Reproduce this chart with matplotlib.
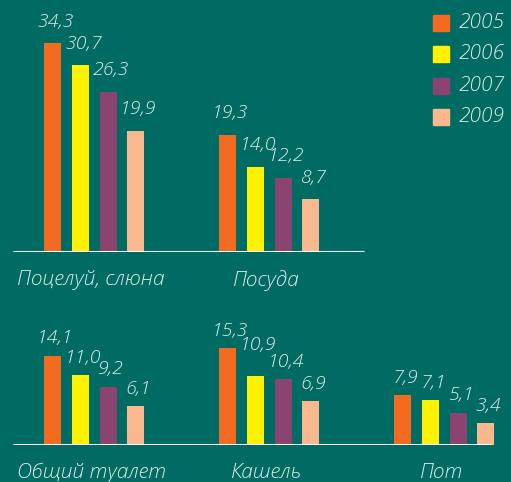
import matplotlib
matplotlib.use("Agg")
import matplotlib.pyplot as plt
import numpy as np

# data
years = ["2005", "2006", "2007", "2009"]
top_groups = ["Поцелуй, слюна", "Посуда"]
top_values = [
    [34.3, 30.7, 26.3, 19.9],
    [19.3, 14.0, 12.2, 8.7],
]
bottom_groups = ["Общий туалет", "Кашель", "Пот"]
bottom_values = [
    [14.1, 11.0, 9.2, 6.1],
    [15.3, 10.9, 10.4, 6.9],
    [7.9, 7.1, 5.1, 3.4],
]

BG = "#006B63"
TEXT = "#DCEDE9"
colors = ["#F26B21", "#FFF200", "#8B4372", "#F9B88E"]
FONT = "Open Sans"


def fmt(v):
    return f"{v:.1f}".replace(".", ",")


def draw_panel(ax, groups, values, line_end, gap, raise_labels=None):
    raise_labels = raise_labels or {}
    offsets = np.array([-0.237, -0.077, 0.083, 0.237])
    width = 0.092
    for gi, (name, vals) in enumerate(zip(groups, values)):
        xs = gi + offsets
        for bi, (x, v, c) in enumerate(zip(xs, vals, colors)):
            ax.bar(x, v, width=width, color=c, zorder=2)
            dy = gap + raise_labels.get((gi, bi), 0)
            ax.annotate(fmt(v), (x, v), xytext=(2, dy), textcoords="offset points",
                        ha="center", va="bottom", color=TEXT, fontsize=14,
                        family=FONT, style="italic", weight="light",
                        annotation_clip=False)
        ax.annotate(name, (gi, 0), xytext=(-2, -13), textcoords="offset points",
                    ha="center", va="top", color=TEXT, fontsize=15,
                    family=FONT, style="italic", weight="light",
                    annotation_clip=False)
    ax.hlines(0, -0.46, line_end, color="white", linewidth=2.2, zorder=3)
    ax.set_xlim(-0.537, 2.383)
    ax.set_facecolor(BG)
    ax.axis("off")


fig = plt.figure(figsize=(5.11, 4.82), dpi=100, facecolor=BG)

ax_top = fig.add_axes([0, 0.477, 1, 0.455])
draw_panel(ax_top, top_groups, top_values, 1.543, 9)
ax_top.set_ylim(0, 36)

ax_bot = fig.add_axes([0, 0.077, 1, 0.21])
# the 10,9 label sits higher in the original so it clears 10,4
draw_panel(ax_bot, bottom_groups, bottom_values, 2.27, 6, {(1, 1): 10})
ax_bot.set_ylim(0, 16)

# legend drawn by hand at the top right
for i, (y, c) in enumerate(zip(years, colors)):
    ty = 1 - (23 + i * 31.3) / 482
    fig.patches.append(plt.Rectangle((433 / 511, ty - 8 / 482), 16 / 511, 16 / 482,
                                     transform=fig.transFigure, color=c))
    fig.text(459 / 511, ty, y, color=TEXT, fontsize=15, family=FONT,
             style="italic", weight="light", va="center", ha="left")

fig.savefig("out.png", dpi=100, facecolor=BG)
